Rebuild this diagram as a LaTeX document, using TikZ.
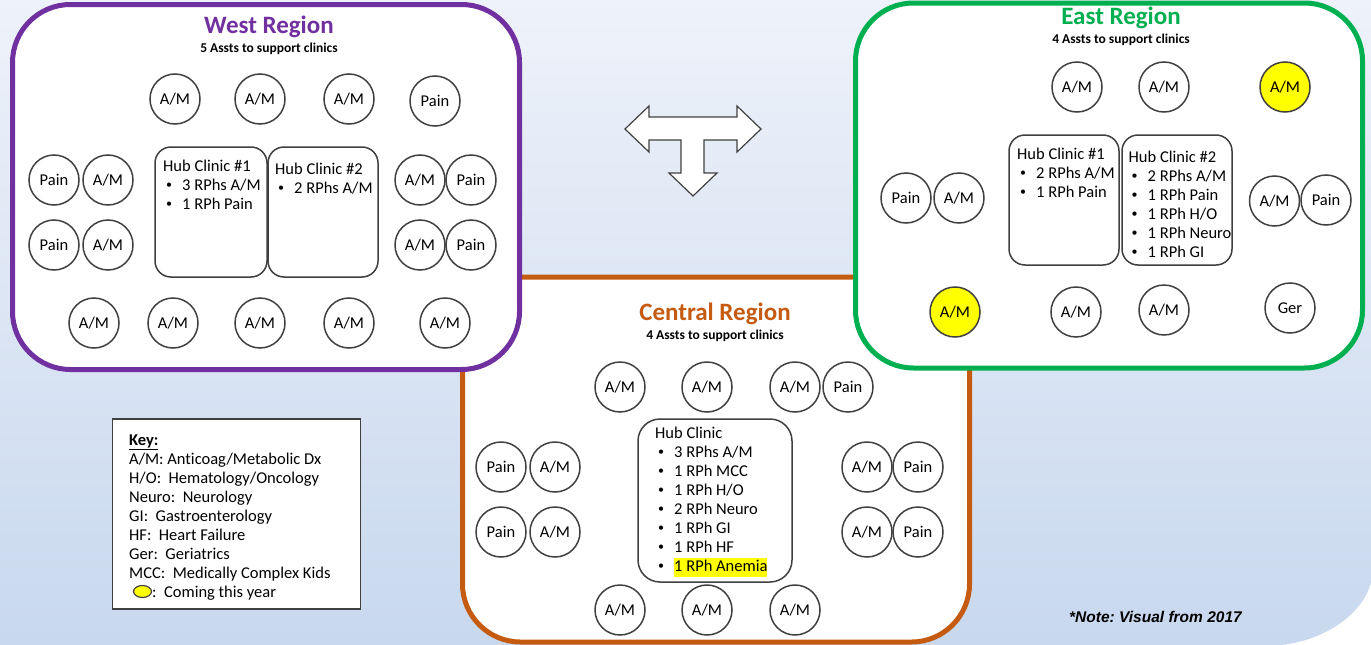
\documentclass[tikz,border=0pt]{standalone}
\usepackage{fontspec}
\setmainfont{Carlito}[Ligatures=NoCommon]
\newfontfamily\notefont{Liberation Sans}
\usetikzlibrary{shapes.geometric}
\frenchspacing

\definecolor{westpurple}{HTML}{7030A0}
\definecolor{eastgreen}{HTML}{00B050}
\definecolor{centralorange}{HTML}{C55A11}
\definecolor{siteline}{HTML}{404040}
\definecolor{soonyellow}{HTML}{FFFF00}
\definecolor{bgtop}{HTML}{EEF2FA}
\definecolor{bgbottom}{HTML}{C8D8EE}

\newcommand{\sitefont}{\fontsize{16.5}{19}\selectfont}
\newcommand{\regiontitlefont}{\fontsize{25}{28}\selectfont\bfseries}
\newcommand{\regionsubfont}{\fontsize{13.5}{16}\selectfont\bfseries}
\newcommand{\hubitem}[1]{\hspace*{3pt}\makebox[16pt][l]{\raisebox{1.8pt}{\fontsize{12}{12}\selectfont\textbullet}}#1}

\tikzset{
  region/.style={draw, line width=5pt, rounded corners=58pt, fill=white,
    minimum width=507pt, minimum height=365pt, inner sep=0pt},
  hub/.style={draw=siteline, line width=1.5pt, rounded corners=16pt, fill=white, inner sep=0pt},
  hubtext/.style={anchor=base west, inner sep=0pt, font=\sitefont},
  site/.style={circle, draw=siteline, line width=1.5pt, fill=white,
    minimum size=50pt, inner sep=0pt, font=\sitefont},
  soon/.style={site, fill=soonyellow},
  rtitle/.style={anchor=base, inner sep=0pt, font=\regiontitlefont},
  rsub/.style={anchor=base, inner sep=0pt, font=\regionsubfont},
  keybox/.style={draw=siteline, line width=1.5pt, fill=white, inner sep=0pt},
  keydot/.style={ellipse, draw=siteline, line width=1.2pt, fill=soonyellow,
    minimum width=18pt, minimum height=12pt, inner sep=0pt},
  tarrow/.style={draw=siteline, line width=1.2pt, fill=white, line join=miter},
}

\begin{document}
\begin{tikzpicture}[x=1pt,y=-1pt]
  % fondo
  \useasboundingbox (0,0) rectangle (1371,645);
  \shade[top color=bgtop, bottom color=bgbottom] (0,0) rectangle (1371,645);
  \fill[white] (1282,645) .. controls (1325,640) and (1362,615) .. (1371,583) -- (1371,645) -- cycle;

  % regiones
  \node[region, draw=centralorange] (central) at (716,459.5) {};
  \node[region, draw=westpurple] (west) at (266,187) {};
  \node[region, draw=eastgreen] (east) at (1109,185.5) {};

  % flecha en T
  \draw[tarrow] (625,129) -- (649,106) -- (649,117) -- (737,117) -- (737,106) -- (761,129)
    -- (737,152) -- (737,140) -- (704,140) -- (704,173) -- (717,173) -- (693,196)
    -- (669,173) -- (681,173) -- (681,140) -- (649,140) -- (649,152) -- cycle;

  % west
  \node[rtitle, text=westpurple] (westtitle) at (269,33) {West Region};
  \node[rsub] (westsub) at (269,52) {5 Assts to support clinics};
  \node[hub, minimum width=112pt, minimum height=130pt] (whub1) at (211,212) {};
  \node[hub, minimum width=110pt, minimum height=130pt] (whub2) at (323,212) {};
  \node[hubtext] (whub1t) at (163,171) {\begin{tabular}[t]{@{}l@{}}Hub Clinic \#1\\
    \hubitem{3 RPhs A/M}\\ \hubitem{1 RPh Pain}\end{tabular}};
  \node[hubtext] (whub2t) at (275,174) {\begin{tabular}[t]{@{}l@{}}Hub Clinic \#2\\
    \hubitem{2 RPhs A/M}\end{tabular}};
  \foreach \x/\n in {175/1,260/2,349/3} \node[site] (wt\n) at (\x,99) {A/M};
  \node[site] (wt4) at (435,101) {Pain};
  \node[site] (wl1) at (54,180) {Pain};
  \node[site] (wl2) at (108,180) {A/M};
  \node[site] (wl3) at (54,245) {Pain};
  \node[site] (wl4) at (108,245) {A/M};
  \node[site] (wr1) at (420,180) {A/M};
  \node[site] (wr2) at (471,180) {Pain};
  \node[site] (wr3) at (420,245) {A/M};
  \node[site] (wr4) at (471,245) {Pain};
  \foreach \x/\n in {94/1,173/2,260/3,349/4,445/5} \node[site] (wb\n) at (\x,323) {A/M};

  % central
  \node[rtitle, text=centralorange] (centraltitle) at (715,320) {Central Region};
  \node[rsub] (centralsub) at (715,339) {4 Assts to support clinics};
  \node[hub, rounded corners=22pt, minimum width=154pt, minimum height=163pt] (chub) at (715,500.5) {};
  \node[hubtext] (chubt) at (655,438) {\begin{tabular}[t]{@{}l@{}}Hub Clinic\\
    \hubitem{3 RPhs A/M}\\ \hubitem{1 RPh MCC}\\ \hubitem{1 RPh H/O}\\
    \hubitem{2 RPh Neuro}\\ \hubitem{1 RPh GI}\\ \hubitem{1 RPh HF}\\
    \hubitem{{\setlength{\fboxsep}{0pt}\colorbox{soonyellow}{\strut 1 RPh Anemia}}}\end{tabular}};
  \foreach \x/\n in {620/1,707/2,795/3} \node[site] (ct\n) at (\x,387) {A/M};
  \node[site] (ct4) at (848,387) {Pain};
  \node[site] (cl1) at (501,467) {Pain};
  \node[site] (cl2) at (555,467) {A/M};
  \node[site] (cl3) at (501,532) {Pain};
  \node[site] (cl4) at (555,532) {A/M};
  \node[site] (cr1) at (867,467) {A/M};
  \node[site] (cr2) at (918,467) {Pain};
  \node[site] (cr3) at (867,532) {A/M};
  \node[site] (cr4) at (918,532) {Pain};
  \foreach \x/\n in {620/1,707/2,795/3} \node[site] (cb\n) at (\x,610) {A/M};

  % east
  \node[rtitle, text=eastgreen] (easttitle) at (1121,24) {East Region};
  \node[rsub] (eastsub) at (1121,43) {4 Assts to support clinics};
  \node[hub, minimum width=110pt, minimum height=130pt] (ehub1) at (1064,200) {};
  \node[hub, minimum width=110pt, minimum height=130pt] (ehub2) at (1177,200) {};
  \node[hubtext] (ehub1t) at (1017,159) {\begin{tabular}[t]{@{}l@{}}Hub Clinic \#1\\
    \hubitem{2 RPhs A/M}\\ \hubitem{1 RPh Pain}\end{tabular}};
  \node[hubtext] (ehub2t) at (1128.5,162) {\begin{tabular}[t]{@{}l@{}}Hub Clinic \#2\\
    \hubitem{2 RPhs A/M}\\ \hubitem{1 RPh Pain}\\ \hubitem{1 RPh H/O}\\
    \hubitem{1 RPh Neuro}\\ \hubitem{1 RPh GI}\end{tabular}};
  \node[site] (et1) at (1077,87) {A/M};
  \node[site] (et2) at (1164,87) {A/M};
  \node[soon] (et3) at (1285,87) {A/M};
  \node[site] (el1) at (906,198) {Pain};
  \node[site] (el2) at (959,198) {A/M};
  \node[site] (er1) at (1274.5,201) {A/M};
  \node[site] (er2) at (1326,200) {Pain};
  \node[soon] (eb1) at (955,312) {A/M};
  \node[site] (eb2) at (1076,312) {A/M};
  \node[site] (eb3) at (1164,310) {A/M};
  \node[site] (eb4) at (1290,308) {Ger};

  % clave
  \node[keybox, minimum width=248pt, minimum height=190pt] (key) at (236.7,514) {};
  \node[hubtext] (keylist) at (129,445) {\begin{tabular}[t]{@{}l@{}}\underline{\textbf{Key:}}\\
    A/M: Anticoag/Metabolic Dx\\ H/O:~~Hematology/Oncology\\ Neuro:~~Neurology\\
    GI:~~Gastroenterology\\ HF:~~Heart Failure\\ Ger:~~Geriatrics\\
    MCC:~~Medically Complex Kids\\ \hspace*{23pt}:~~Coming this year\end{tabular}};
  \node[keydot] (keysoon) at (142.5,591.5) {};

  % nota
  \node[anchor=base west, inner sep=0pt, font=\notefont\fontsize{15.5}{18}\selectfont\bfseries\itshape] (note)
    at (1069,622) {*Note: Visual from 2017};
\end{tikzpicture}
\end{document}
